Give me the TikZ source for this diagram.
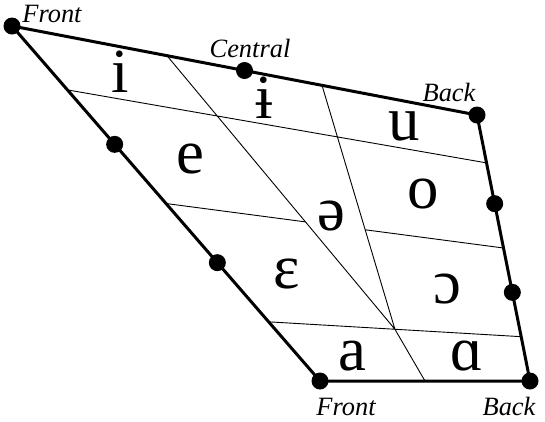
\documentclass[tikz,border=0pt]{standalone}
\usepackage{fontspec}
\setmainfont{Liberation Serif}
\usetikzlibrary{calc}

\begin{document}
\begin{tikzpicture}[x=1bp, y=-1bp,
    outline/.style={line width=3bp, line join=round},
    gridline/.style={line width=0.9bp},
    dot/.style={circle, fill, inner sep=0pt, minimum size=17bp},
    vowel/.style={anchor=base, font=\fontsize{63}{63}\selectfont},
    side/.style={anchor=base, font=\fontsize{26.5}{26.5}\selectfont\itshape}]
    \useasboundingbox (0, 0) rectangle (545, 421);
    % corners of the chart
    \coordinate (TF) at (12, 26);
    \coordinate (TB) at (477, 115);
    \coordinate (BF) at (320, 381);
    \coordinate (BB) at (530, 381);
    % row and column ends
    \coordinate (r1L) at ($(TF)!0.18!(BF)$);
    \coordinate (r1R) at ($(TB)!0.18!(BB)$);
    \coordinate (r2L) at ($(TF)!0.5!(BF)$);
    \coordinate (r2R) at ($(TB)!0.5!(BB)$);
    \coordinate (r3L) at ($(TF)!5/6!(BF)$);
    \coordinate (r3R) at ($(TB)!5/6!(BB)$);
    \coordinate (cA) at ($(TF)!1/3!(TB)$);
    \coordinate (cB) at ($(TF)!2/3!(TB)$);
    \coordinate (cM) at ($(r3L)!0.5!(r3R)$);
    \coordinate (cE) at ($(BF)!0.5!(BB)$);
    \coordinate (xA) at (intersection of r2L--r2R and cA--cM);
    \coordinate (xB) at (intersection of r2L--r2R and cB--cM);
    \draw[gridline]
    (r1L) -- (r1R)
    (r2L) -- (xA)
    (xB) -- (r2R)
    (r3L) -- (r3R)
    (cA) -- (cM)
    (cB) -- (cM)
    (cM) -- (cE);
    \draw[outline] (TF) -- (TB) -- (BB) -- (BF) -- cycle;
    \node[dot] (dTF) at (TF) {};
    \node[dot] (dTC) at ($(TF)!0.5!(TB)$) {};
    \node[dot] (dTB) at (TB) {};
    \node[dot] (dL1) at ($(TF)!1/3!(BF)$) {};
    \node[dot] (dL2) at ($(TF)!2/3!(BF)$) {};
    \node[dot] (dR1) at ($(TB)!1/3!(BB)$) {};
    \node[dot] (dR2) at ($(TB)!2/3!(BB)$) {};
    \node[dot] (dBF) at (BF) {};
    \node[dot] (dBB) at (BB) {};
    \node[side] (lTF) at (52, 22) {Front};
    \node[side] (lTC) at (250, 57) {Central};
    \node[side] (lTB) at (449, 101) {Back};
    \node[side] (lBF) at (346, 415) {Front};
    \node[side] (lBB) at (509, 415) {Back};
    \node[vowel] (vi) at (120, 92) {i};
    \node[vowel] (vbi) at (264, 118) {ɨ};
    \node[vowel] (vu) at (404, 140) {u};
    \node[vowel] (ve) at (190, 173) {e};
    \node[vowel] (vo) at (423, 208) {o};
    \node[vowel] (vschwa) at (331, 230) {ə};
    \node[vowel] (veps) at (287, 288) {ɛ};
    \node[vowel] (vopo) at (447, 303) {ɔ};
    \node[vowel] (va) at (352, 370) {a};
    \node[vowel] (valpha) at (467, 370) {ɑ};
\end{tikzpicture}
\end{document}
